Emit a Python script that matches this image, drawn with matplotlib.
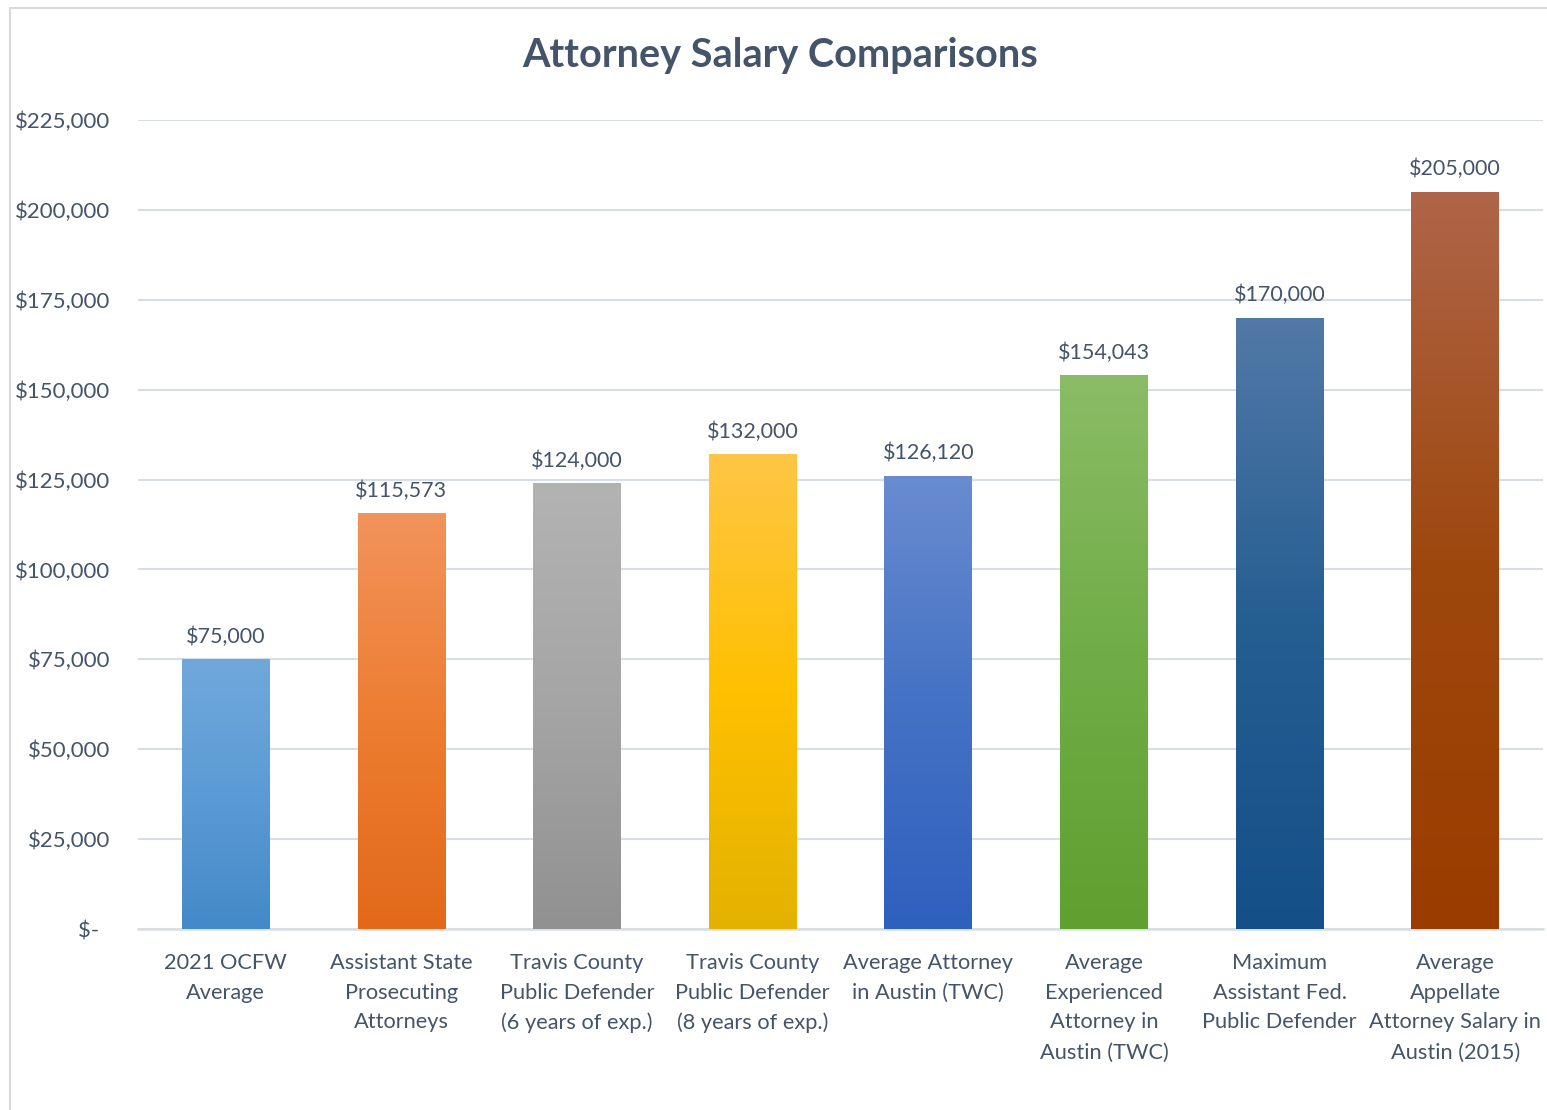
import numpy as np
import matplotlib
matplotlib.use("Agg")
import matplotlib.pyplot as plt
from matplotlib.colors import LinearSegmentedColormap
from matplotlib.patches import Rectangle
from matplotlib.ticker import FuncFormatter

plt.rcParams['font.family'] = ['Lato', 'DejaVu Sans']

categories = [
    "2021 OCFW\nAverage",
    "Assistant State\nProsecuting\nAttorneys",
    "Travis County\nPublic Defender\n(6 years of exp.)",
    "Travis County\nPublic Defender\n(8 years of exp.)",
    "Average Attorney\nin Austin (TWC)",
    "Average\nExperienced\nAttorney in\nAustin (TWC)",
    "Maximum\nAssistant Fed.\nPublic Defender",
    "Average\nAppellate\nAttorney Salary in\nAustin (2015)",
]
salaries = [75000, 115573, 124000, 132000, 126120, 154043, 170000, 205000]
yticks = [0, 25000, 50000, 75000, 100000, 125000, 150000, 175000, 200000, 225000]

# gradient stops per bar: top, middle, bottom
tops = ["#71A8DC", "#F2935B", "#B3B3B3", "#FEC646", "#6A8CD0", "#8BBC66", "#5279A7", "#AF6549"]
mids = ["#5B9BD5", "#ED7D31", "#A5A5A5", "#FFC000", "#4472C4", "#70AD47", "#255E91", "#9E480E"]
bots = ["#4489C8", "#E2691A", "#919191", "#E3B200", "#2E60BE", "#5FA030", "#154F88", "#9A3C00"]

text_col = "#44546A"
grid_col = "#D9DEE5"

fig = plt.figure(figsize=(15.47, 11.10), dpi=100)
ax = fig.add_axes([138 / 1547, 1 - 929 / 1110, 1405 / 1547, 809 / 1110])

x = np.arange(len(categories))
bars = ax.bar(x, salaries, width=0.5, color=mids, zorder=3)

# excel-like vertical gradient fill, clipped to each bar
for bar, top, mid, bot in zip(bars, tops, mids, bots):
    cmap = LinearSegmentedColormap.from_list("g", [bot, mid, top])
    x0, y0 = bar.get_xy()
    im = ax.imshow(np.linspace(0, 1, 256).reshape(-1, 1), extent=[x0, x0 + bar.get_width(), y0, y0 + bar.get_height()],
                   origin="lower", aspect="auto", cmap=cmap, zorder=3.5)
    im.set_clip_path(bar)

ax.bar_label(bars, labels=[f"${v:,.0f}" for v in salaries], padding=9, fontsize=15.5, color=text_col)

ax.set_xlim(-0.5, len(categories) - 0.5)
ax.set_ylim(0, 225000)
ax.set_aspect("auto")
ax.set_yticks(yticks)
ax.yaxis.set_major_formatter(FuncFormatter(lambda v, p: "$-  " if v == 0 else f"${v:,.0f}"))
ax.set_xticks(x)
ax.set_xticklabels(categories, linespacing=1.62, va="top")
ax.tick_params(axis="x", length=0, pad=17, labelsize=15.7, labelcolor=text_col)
ax.tick_params(axis="y", length=0, pad=20, labelsize=16, labelcolor=text_col)
ax.grid(axis="y", color=grid_col, linewidth=1.5, zorder=0)
ax.set_axisbelow(True)
for s in ["top", "right", "left"]:
    ax.spines[s].set_visible(False)
ax.spines["bottom"].set_color(grid_col)
ax.spines["bottom"].set_linewidth(1.8)

fig.text(0.504, 1 - 55 / 1110, "Attorney Salary Comparisons", ha="center", va="center",
         fontsize=28.5, fontweight="bold", color=text_col)

# chart area border
fig.patches.append(Rectangle((9.5 / 1547, -0.01), 1.02, 1.01 - 8 / 1110, transform=fig.transFigure,
                             fill=False, edgecolor="#D9D9D9", linewidth=1.5))

plt.savefig("out.png", dpi=100)
